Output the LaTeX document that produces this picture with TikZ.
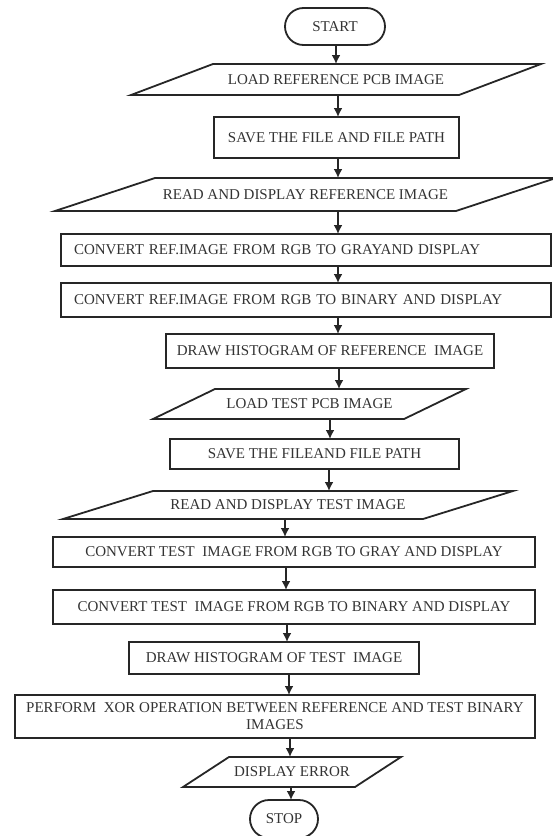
\documentclass[tikz,border=0pt]{standalone}
\usepackage{fontspec}
\setmainfont{Liberation Serif}
\usetikzlibrary{shapes.misc, arrows.meta}

% cadre incline pour les entrees / sorties
\newcommand{\parallelogramme}[2]{\draw[trait] ([xshift=#2]#1.north west) -- ([xshift=#2]#1.north east) -- ([xshift=-#2]#1.south east) -- ([xshift=-#2]#1.south west) -- cycle;}

\begin{document}
\begin{tikzpicture}[x=1pt, y=-1pt]
	\tikzset{trait/.style={draw=black!85, line width=1.8pt},
		texte/.style={font=\fontsize{15}{17}\selectfont, text=black!80, inner sep=0pt, outer sep=0pt},
		boite/.style={rectangle, trait, texte},
		gauche/.style={align=left, inner xsep=13pt},
		terminal/.style={rounded rectangle, trait, texte, minimum width=100pt, minimum height=37pt},
		donnee/.style={rectangle, texte},
		fleche/.style={>={Latex[length=9pt, width=9pt]}, ->, trait}};
	\useasboundingbox (0,0) rectangle (553,836);

	\node[terminal] (debut) at (335,26.5) {START};
	\node[donnee, minimum width=328pt, minimum height=31pt] (chargeref) at (336,79.5) {LOAD REFERENCE PCB IMAGE};
	\node[boite, minimum width=245pt, minimum height=41pt] (sauveref) at (336.5,137.5) {SAVE THE FILE AND FILE PATH};
	\node[donnee, minimum width=401pt, minimum height=33pt] (lireref) at (305.5,194.5) {READ AND DISPLAY REFERENCE\ IMAGE};
	\node[boite, gauche, text width=464pt, minimum height=32pt] (grisref) at (306,250) {CONVERT REF.IMAGE FROM RGB TO GRAYAND DISPLAY};
	\node[boite, gauche, text width=464pt, minimum height=34pt] (binref) at (306,300) {CONVERT REF.IMAGE FROM RGB TO BINARY AND DISPLAY};
	\node[boite, minimum width=328pt, minimum height=34pt] (histref) at (330,351) {DRAW HISTOGRAM OF REFERENCE\ \ IMAGE};
	\node[donnee, minimum width=251pt, minimum height=30pt] (chargetest) at (309.5,404) {LOAD TEST PCB IMAGE};
	\node[boite, minimum width=289pt, minimum height=30pt] (sauvetest) at (314.5,454) {SAVE THE FILEAND FILE PATH};
	\node[donnee, minimum width=360pt, minimum height=28pt] (liretest) at (288,505) {READ AND DISPLAY TEST IMAGE};
	\node[boite, minimum width=482pt, minimum height=30pt] (gristest) at (294,552) {CONVERT TEST\ \ IMAGE FROM RGB TO GRAY AND DISPLAY};
	\node[boite, minimum width=482pt, minimum height=34pt] (bintest) at (294,607) {CONVERT TEST\ \ IMAGE FROM RGB\ TO BINARY AND DISPLAY};
	\node[boite, minimum width=290pt, minimum height=32pt] (histtest) at (274,658) {DRAW HISTOGRAM OF TEST\ \ IMAGE};
	\node[boite, align=center, minimum width=520pt, minimum height=43pt] (xor) at (275,716.5) {PERFORM\ \ XOR OPERATION BETWEEN REFERENCE\ AND TEST BINARY\\IMAGES};
	\node[donnee, minimum width=172pt, minimum height=30pt] (erreur) at (292,772) {DISPLAY ERROR};
	\node[terminal, minimum width=68pt, minimum height=38pt] (fin) at (284,819) {STOP};

	\parallelogramme{chargeref}{41pt}
	\parallelogramme{lireref}{50pt}
	\parallelogramme{chargetest}{31pt}
	\parallelogramme{liretest}{45pt}
	\parallelogramme{erreur}{23pt}

	\draw[fleche] (debut.south -| 336,0) -- (chargeref.north -| 336,0);
	\draw[fleche] (chargeref.south -| 338,0) -- (sauveref.north -| 338,0);
	\draw[fleche] (sauveref.south -| 338,0) -- (lireref.north -| 338,0);
	\draw[fleche] (lireref.south -| 338,0) -- (grisref.north -| 338,0);
	\draw[fleche] (grisref.south -| 338,0) -- (binref.north -| 338,0);
	\draw[fleche] (binref.south -| 338,0) -- (histref.north -| 338,0);
	\draw[fleche] (histref.south -| 339,0) -- (chargetest.north -| 339,0);
	\draw[fleche] (chargetest.south -| 330,0) -- (sauvetest.north -| 330,0);
	\draw[fleche] (sauvetest.south -| 329,0) -- (liretest.north -| 329,0);
	\draw[fleche] (liretest.south -| 285,0) -- (gristest.north -| 285,0);
	\draw[fleche] (gristest.south -| 286,0) -- (bintest.north -| 286,0);
	\draw[fleche] (bintest.south -| 287,0) -- (histtest.north -| 287,0);
	\draw[fleche] (histtest.south -| 289,0) -- (xor.north -| 289,0);
	\draw[fleche] (xor.south -| 290,0) -- (erreur.north -| 290,0);
	\draw[fleche] (erreur.south -| 291,0) -- (fin.north -| 291,0);
\end{tikzpicture}
\end{document}
